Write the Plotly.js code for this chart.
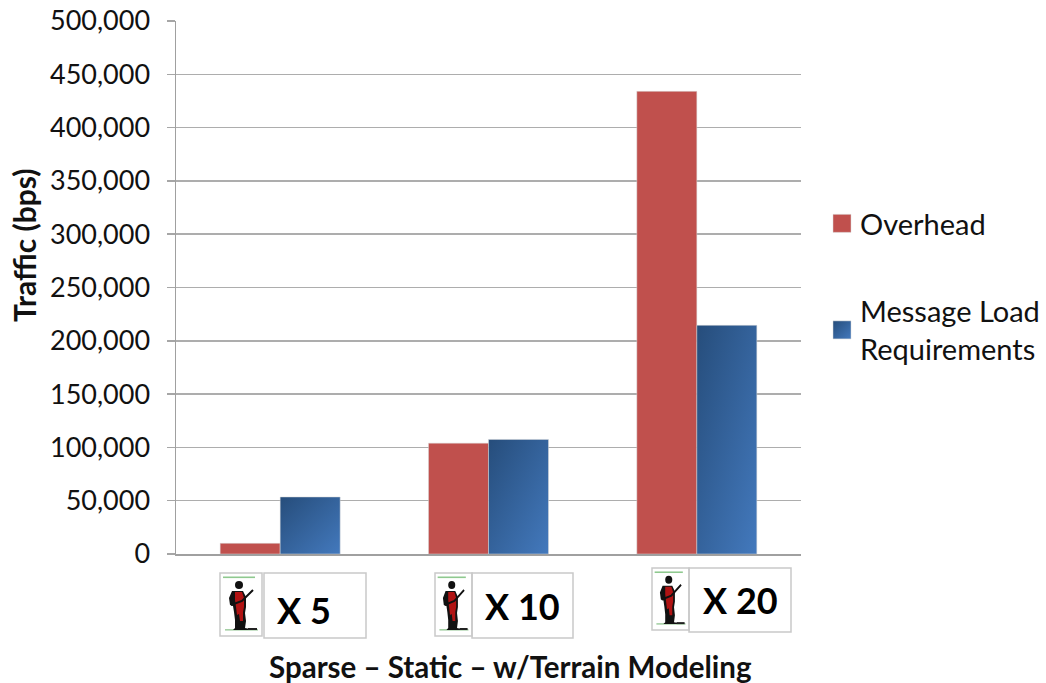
<!DOCTYPE html>
<html><head><meta charset="utf-8">
<script src="https://cdn.plot.ly/plotly-3.0.1.min.js"></script>
<style>html,body{margin:0;padding:0;background:#fff}#c{width:1046px;height:683px}</style>
</head><body><div id="c"></div>
<script>
const categories = ["X 5", "X 10", "X 20"];
const overhead = [10000, 104000, 434000];
const messageLoad = [53500, 107500, 214500];
const yTicks = [0,50000,100000,150000,200000,250000,300000,350000,400000,450000,500000];
const seriesNames = ["Overhead", "Message Load<br>Requirements"];

const L=176,R=801,T=21,B=554,W=1046,H=683;
const px=x=>(x-L)/(R-L), py=y=>(B-y)/(B-T);
const font="Lato, 'Open Sans', sans-serif";

const soldier = 'data:image/svg+xml;utf8,'+encodeURIComponent(
`<svg xmlns="http://www.w3.org/2000/svg" viewBox="0 0 42 63">
<rect x="3" y="3.5" width="32" height="1.6" fill="#8fc98f"/>
<rect x="5" y="56" width="33" height="1.6" fill="#a5d0a5"/>
<circle cx="19" cy="12" r="4" fill="#111"/>
<path d="M12 18h11l3 6 0 10-1 6 1 8-1 7 5 1 3 1H13l2-2 0-8-1-8-1-6-3-1-1-7z" fill="#111"/>
<path d="M15 19h7l2 6 0 9-1 5 0 9h-3l-1-7-2 1-1-8-1-7z" fill="#b01313"/>
<path d="M11 32L22 28L33 17" stroke="#111" stroke-width="2" fill="none"/>
<rect x="28" y="55" width="9" height="2" fill="#222"/>
</svg>`);

const boxes=[
 {icon:[220,573,262,636], box:[264,573,366,638], tx:304, ty:610},
 {icon:[435,573,472,636], box:[472,573,573,638], tx:522, ty:606},
 {icon:[652,568,689,630], box:[689,568,791,632], tx:740, ty:600}
];
const rect=(a,fill)=>({type:'rect',xref:'paper',yref:'paper',x0:px(a[0]),x1:px(a[2]),y0:py(a[1]),y1:py(a[3]),
  line:{color:'#c9c9c9',width:1.5},fillcolor:fill||'#fff',layer:'above'});

const data=[
 {type:'bar',name:seriesNames[0],x:categories,y:overhead,legendgroup:'a',
  marker:{color:'#c0504d',line:{color:'#d9d9d9',width:0.5}}},
 {type:'bar',name:seriesNames[1],x:categories,y:messageLoad,legendgroup:'b',
  marker:{color:'#36659e',line:{color:'#d9d9d9',width:0.5}}}
];
const layout={
 width:W,height:H,margin:{l:L,r:W-R,t:T,b:H-B,pad:0,autoexpand:false},
 paper_bgcolor:'#fff',plot_bgcolor:'#fff',
 barmode:'group',bargap:0.424,bargroupgap:0,
 font:{family:font,color:'#111'},
 xaxis:{showticklabels:false,ticks:'',showline:true,linecolor:'#a0a0a0',linewidth:1.5,showgrid:false,zeroline:false,
   type:'category',categoryorder:'array',categoryarray:categories},
 yaxis:{range:[0,500000],tickmode:'array',tickvals:yTicks,tickformat:',d',tickfont:{size:27,family:font,color:'#111'},
   ticks:'outside',ticklen:8,tickcolor:'#a6a6a6',tickwidth:1.5,showline:true,linecolor:'#a0a0a0',linewidth:1.5,
   gridcolor:'#adadad',gridwidth:1.5,zeroline:false,ticklabelstandoff:11},
 legend:{x:(822-L)/(R-L),xanchor:'left',y:py(198),yanchor:'top',font:{size:29,family:font,color:'#111'},
   traceorder:'grouped',tracegroupgap:47,itemwidth:30,bgcolor:'rgba(0,0,0,0)'},
 images:boxes.map(b=>({source:soldier,xref:'paper',yref:'paper',x:px(b.icon[0]),y:py(b.icon[1]),
   sizex:(b.icon[2]-b.icon[0])/(R-L),sizey:(b.icon[3]-b.icon[1])/(B-T),sizing:'stretch',xanchor:'left',yanchor:'top',layer:'above'})),
 shapes:boxes.flatMap(b=>[rect(b.box)]).concat(boxes.map(b=>rect(b.icon,'rgba(0,0,0,0)'))),
 annotations:boxes.map((b,i)=>({text:'<b>'+categories[i]+'</b>',xref:'paper',yref:'paper',x:px(b.tx),y:py(b.ty),
   showarrow:false,font:{size:36,family:font,color:'#000'},xanchor:'center',yanchor:'middle'})).concat([
   {text:'<b>Sparse – Static – w/Terrain Modeling</b>',xref:'paper',yref:'paper',x:px(510),y:py(666),showarrow:false,
    font:{size:29.5,family:font,color:'#111'},xanchor:'center',yanchor:'middle'},
   {text:'<b>Traffic (bps)</b>',xref:'paper',yref:'paper',x:px(24),y:py(246),showarrow:false,textangle:-90,
    font:{size:30,family:font,color:'#111'},xanchor:'center',yanchor:'middle'}])
};
Plotly.newPlot('c',data,layout,{displayModeBar:false,staticPlot:true}).then(gd=>{
  const svg=gd.querySelector('svg.main-svg');
  const ns='http://www.w3.org/2000/svg';
  const defs=svg.querySelector('defs')||svg.insertBefore(document.createElementNS(ns,'defs'),svg.firstChild);
  const g=document.createElementNS(ns,'linearGradient');
  g.setAttribute('id','blueGrad');g.setAttribute('x1','0');g.setAttribute('y1','0');g.setAttribute('x2','1');g.setAttribute('y2','1');
  [['0','#264d7b'],['1','#4379bd']].forEach(([o,c])=>{const s=document.createElementNS(ns,'stop');s.setAttribute('offset',o);s.setAttribute('stop-color',c);g.appendChild(s);});
  defs.appendChild(g);
  const traces=gd.querySelectorAll('.barlayer .trace.bars');
  traces[1].querySelectorAll('path').forEach(p=>{p.style.fill='url(#blueGrad)';});
  const sw=gd.querySelectorAll('.legend .traces .legendpoints path');
  sw.forEach((p,i)=>{p.setAttribute('d','M9,9H-9V-9H9Z'); if(i===1)p.style.fill='url(#blueGrad)';});
  gd.querySelectorAll('.legend .legendtext').forEach(t=>t.setAttribute('transform','translate(-2,0)'));
});
</script></body></html>
